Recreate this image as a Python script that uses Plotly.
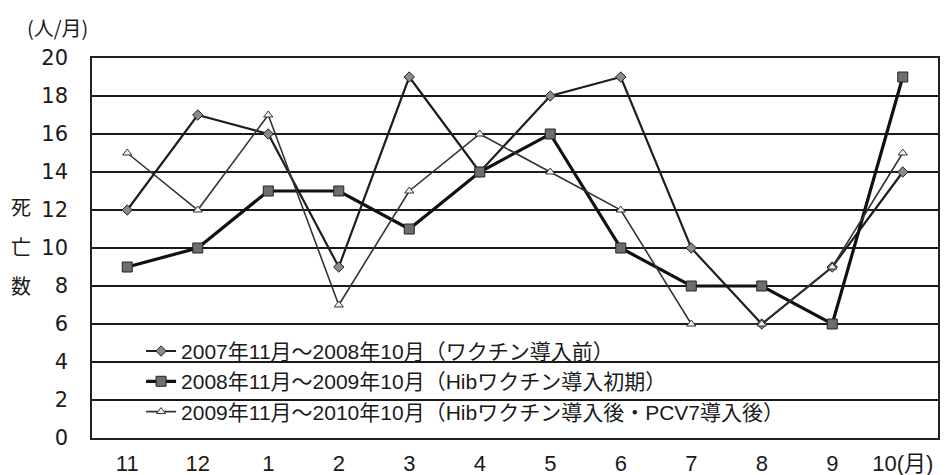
import plotly.graph_objects as go

# Month order on the x axis (November through October)
months = ["11", "12", "1", "2", "3", "4", "5", "6", "7", "8", "9", "10(月)"]

# Deaths per month for each period
deaths_2007 = [12, 17, 16, 9, 19, 14, 18, 19, 10, 6, 9, 14]
deaths_2008 = [9, 10, 13, 13, 11, 14, 16, 10, 8, 8, 6, 19]
deaths_2009 = [15, 12, 17, 7, 13, 16, 14, 12, 6, 6, 9, 15]

names = [
    "2007年11月～2008年10月（ワクチン導入前）",
    "2008年11月～2009年10月（Hibワクチン導入初期）",
    "2009年11月～2010年10月（Hibワクチン導入後・PCV7導入後）",
]

y_ticks = list(range(0, 21, 2))

FONT = "Liberation Sans, Arial, Noto Sans CJK JP, sans-serif"
JP_FONT = "Noto Sans CJK JP, sans-serif"

fig = go.Figure()

fig.add_trace(go.Scatter(
    x=months, y=deaths_2007, name=names[0], mode="lines+markers",
    line=dict(color="#1e1e1e", width=2.2),
    marker=dict(symbol="diamond", size=8, color="#8a8a8a",
                line=dict(color="#222", width=1)),
))
fig.add_trace(go.Scatter(
    x=months, y=deaths_2008, name=names[1], mode="lines+markers",
    line=dict(color="#111", width=3.2),
    marker=dict(symbol="square", size=10, color="#6e6e6e",
                line=dict(color="#222", width=1)),
))
fig.add_trace(go.Scatter(
    x=months, y=deaths_2009, name=names[2], mode="lines+markers",
    line=dict(color="#333", width=1.6),
    marker=dict(symbol="triangle-up", size=8, color="#f0f0f0",
                line=dict(color="#333", width=1)),
))

fig.update_layout(
    width=947, height=475,
    margin=dict(l=92, r=9, t=58, b=37, autoexpand=False),
    paper_bgcolor="white", plot_bgcolor="white",
    font=dict(family=FONT, size=21, color="#1a1a1a"),
    showlegend=True,
    legend=dict(
        x=0.058, y=0.282, xanchor="left", yanchor="top",
        bgcolor="rgba(0,0,0,0)", borderwidth=0,
        font=dict(family=FONT, size=21, color="#1a1a1a"),
        itemwidth=30, tracegroupgap=0,
    ),
    xaxis=dict(
        type="category", range=[-0.5, 11.5], automargin=False,
        showgrid=False, showline=True, mirror=True,
        linecolor="#222", linewidth=1.5,
        ticks="", tickfont=dict(size=22, family=FONT),
        ticklabelstandoff=5,
    ),
    yaxis=dict(
        range=[0, 20], tickvals=y_ticks, automargin=False,
        showgrid=True, gridcolor="#1a1a1a", gridwidth=1.6,
        showline=True, mirror=True, linecolor="#222", linewidth=1.5,
        zeroline=False, ticks="",
        tickfont=dict(size=21, family="DejaVu Sans, sans-serif"),
        ticklabelstandoff=18,
    ),
)

# Unit label above the y axis
fig.add_annotation(
    text="(人/月)", xref="paper", yref="paper",
    x=(57 - 92) / 846, y=(438 - 27) / 380, xanchor="center", yanchor="middle",
    showarrow=False, font=dict(family=JP_FONT, size=20, color="#1a1a1a"),
)

# Vertical y-axis title, one character per row
for ch, yp in zip(["死", "亡", "数"], [206, 246, 285]):
    fig.add_annotation(
        text=ch, xref="paper", yref="paper",
        x=(21 - 92) / 846, y=(438 - yp) / 380,
        xanchor="center", yanchor="middle", showarrow=False,
        font=dict(family=JP_FONT, size=20, color="#1a1a1a"),
    )

fig.write_html("out.html")
